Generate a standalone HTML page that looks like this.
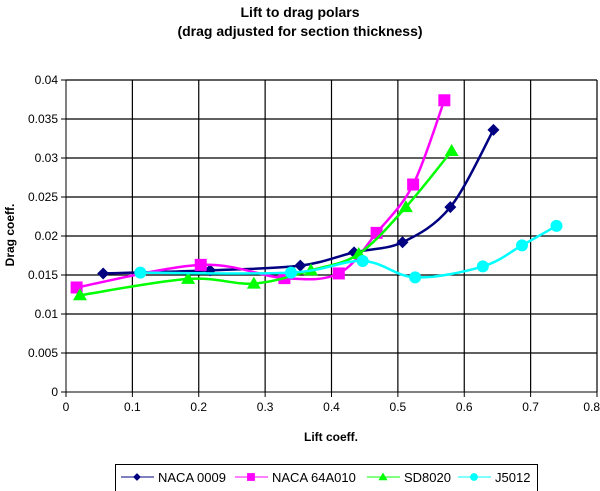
<!DOCTYPE html>
<html><head><meta charset="utf-8"><style>
body{margin:0;background:#fff;}
svg{display:block;font-family:"Liberation Sans",Arial,sans-serif;}
</style></head><body>
<svg id="chart" width="600" height="491">
<text x="300" y="17" text-anchor="middle" font-size="14" font-weight="bold">Lift to drag polars</text>
<text x="300" y="36" text-anchor="middle" font-size="14" font-weight="bold">(drag adjusted for section thickness)</text>
<g id="grid"></g>
<g id="series"></g>
<text x="331" y="441" text-anchor="middle" font-size="12" font-weight="bold">Lift coeff.</text>
<text transform="translate(14,235) rotate(-90)" text-anchor="middle" font-size="12" font-weight="bold">Drag coeff.</text>
<g>
<rect x="115.5" y="464.5" width="422" height="30" fill="#fff" stroke="#000"/>
<g id="legend"></g>
</g>
</svg>
<script>
const xTicks=[0,0.1,0.2,0.3,0.4,0.5,0.6,0.7,0.8];
const xTickLabels=["0","0.1","0.2","0.3","0.4","0.5","0.6","0.7","0.8"];
const yTicks=[0,0.005,0.01,0.015,0.02,0.025,0.03,0.035,0.04];
const yTickLabels=["0","0.005","0.01","0.015","0.02","0.025","0.03","0.035","0.04"];
const seriesNames=["NACA 0009","NACA 64A010","SD8020","J5012"];
const naca0009X=[0.056,0.217,0.353,0.434,0.507,0.579,0.644];
const naca0009Y=[0.0152,0.0156,0.0162,0.0179,0.0192,0.0237,0.0336];
const naca64X=[0.016,0.203,0.329,0.411,0.468,0.523,0.570];
const naca64Y=[0.0134,0.0163,0.0146,0.0152,0.0204,0.0266,0.0374];
const sd8020X=[0.021,0.184,0.283,0.369,0.441,0.512,0.581];
const sd8020Y=[0.0124,0.0145,0.0139,0.0156,0.0177,0.0237,0.0309];
const j5012X=[0.112,0.339,0.447,0.526,0.628,0.687,0.739];
const j5012Y=[0.0153,0.0153,0.0168,0.0147,0.0161,0.0188,0.0213];

const NS="http://www.w3.org/2000/svg";
const L=66,R=597,T=80,B=392;
const sx=v=>L+v/0.8*(R-L);
const sy=v=>B-v/0.04*(B-T);
function mk(tag,attrs,parent){const e=document.createElementNS(NS,tag);for(const k in attrs)e.setAttribute(k,attrs[k]);parent.appendChild(e);return e;}
const grid=document.getElementById('grid');
xTicks.forEach((t,i)=>{
 if(i>0){const g=mk('line',{x1:sx(t),x2:sx(t),y1:T,y2:B,stroke:'#000','stroke-width':1.2},grid);
 
 }
 mk('line',{x1:sx(t),x2:sx(t),y1:B,y2:B+5,stroke:'#000'},grid);
 const last=i===xTicks.length-1;
 const tx=mk('text',{x:last?600:sx(t),y:B+19,'text-anchor':last?'end':'middle','font-size':12},grid);
 tx.textContent=xTickLabels[i];
 
 
});
yTicks.forEach((t,i)=>{
 if(i>0){const g=mk('line',{x1:L,x2:R,y1:sy(t),y2:sy(t),stroke:'#000','stroke-width':1.2},grid);
 
 }
 mk('line',{x1:L-5,x2:L,y1:sy(t),y2:sy(t),stroke:'#000'},grid);
 const tx=mk('text',{x:L-8,y:sy(t)+4,'text-anchor':'end','font-size':12},grid);
 tx.textContent=yTickLabels[i];
 
 
});
mk('line',{x1:L,x2:L,y1:T,y2:B,stroke:'#000'},grid);
mk('line',{x1:L,x2:R,y1:B,y2:B,stroke:'#000'},grid);

function smooth(p){let d=`M${p[0][0]},${p[0][1]}`;
 for(let i=0;i<p.length-1;i++){const p0=p[i-1]||p[i],p1=p[i],p2=p[i+1],p3=p[i+2]||p2;
 d+=` C${p1[0]+(p2[0]-p0[0])/6},${p1[1]+(p2[1]-p0[1])/6} ${p2[0]-(p3[0]-p1[0])/6},${p2[1]-(p3[1]-p1[1])/6} ${p2[0]},${p2[1]}`;}
 return d;}
function marker(kind,x,y,col,parent,s){
 s=s||1;
 if(kind==='diamond')return mk('polygon',{points:`${x},${y-6*s} ${x+6*s},${y} ${x},${y+6*s} ${x-6*s},${y}`,fill:col},parent);
 if(kind==='square')return mk('rect',{x:x-6*s,y:y-6*s,width:12*s,height:12*s,fill:col},parent);
 if(kind==='triangle')return mk('polygon',{points:`${x},${y-7*s} ${x+7*s},${y+5*s} ${x-7*s},${y+5*s}`,fill:col},parent);
 return mk('circle',{cx:x,cy:y,r:6*s,fill:col},parent);
}
const seriesX=[naca0009X,naca64X,sd8020X,j5012X];
const seriesY=[naca0009Y,naca64Y,sd8020Y,j5012Y];
const colors=["#000080","#ff00ff","#00ff00","#00ffff"];
const kinds=["diamond","square","triangle","circle"];
const sg=document.getElementById('series');
seriesX.forEach((xs,si)=>{
 const g=mk('g',{},sg);
 
 
 const pts=xs.map((x,i)=>[sx(x),sy(seriesY[si][i])]);
 const p=mk('path',{d:smooth(pts),fill:'none',stroke:colors[si],'stroke-width':2.5},g);
 
 
 pts.forEach(pt=>{const m=marker(kinds[si],pt[0],pt[1],colors[si],g);
 
 });
});
const lg=document.getElementById('legend');
const lx=[121,235,367,458];
seriesNames.forEach((n,i)=>{
 const g=mk('g',{},lg);
 
 
 mk('line',{x1:lx[i],x2:lx[i]+33,y1:477,y2:477,stroke:colors[i],'stroke-width':1},g);
 marker(kinds[i],lx[i]+16,477,colors[i],g,0.65);
 const t=mk('text',{x:lx[i]+37,y:482,'font-size':13},g);
 t.textContent=n;
});
</script>
</body></html>
